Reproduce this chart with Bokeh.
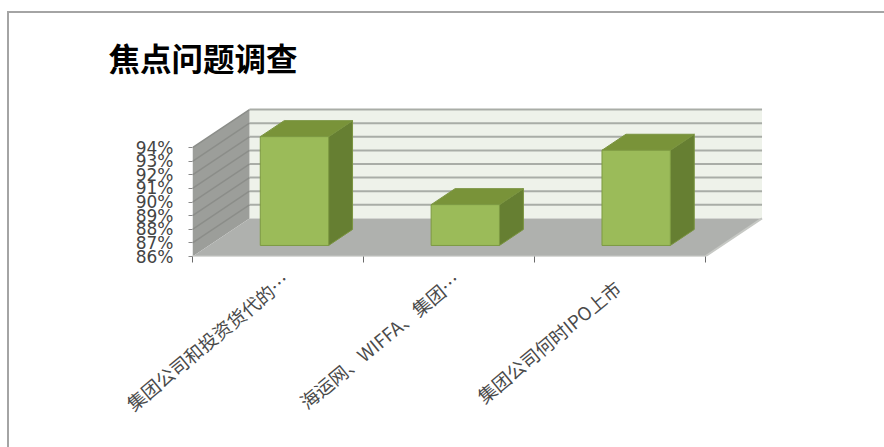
from bokeh.embed import file_html
from bokeh.models import FixedTicker, LinearAxis, Range1d, Title
from bokeh.plotting import figure
from bokeh.resources import INLINE

# Survey results shown as a pseudo-3D column chart
title_text = "焦点问题调查"
categories = ["集团公司和投资货代的…", "海运网、WIFFA、集团…", "集团公司何时IPO上市\u2002\u2009"]
values = [94, 89, 93]
y_ticks = [86, 87, 88, 89, 90, 91, 92, 93, 94]

# Projection of the depth axis, in data units of x and y
DEPTH_X = 1 / 3
DEPTH_Y = 2.8
BAR_WIDTH = 0.4
BAR_NEAR = 0.29
BAR_FAR = 0.71
LABEL_SHIFT = 0.047

y_min, y_max = y_ticks[0], y_ticks[-1]


def project(x, y, depth):
    return x + depth * DEPTH_X, y + depth * DEPTH_Y


def wall_patch(points):
    xs, ys = zip(*(project(*pt) for pt in points))
    return list(xs), list(ys)


p = figure(
    width=884,
    height=447,
    output_backend="svg",
    toolbar_location=None,
    x_range=Range1d(0, 3.5),
    y_range=Range1d(86, 97.47),
    x_axis_type=None,
    y_axis_type=None,
    min_border_left=192,
    min_border_right=94,
    min_border_top=100,
    min_border_bottom=191,
    outline_line_color=None,
    background_fill_color=None,
    border_fill_color=None,
)
p.grid.visible = False

# Page frame along the top and left edges, painted behind the transparent canvas
p.styles = {
    "background-color": "#ffffff",
    "background-image": "linear-gradient(#a4a4a4, #a4a4a4), linear-gradient(#a4a4a4, #a4a4a4)",
    "background-size": "877px 2px, 2px 436px",
    "background-position": "7px 11px, 7px 11px",
    "background-repeat": "no-repeat",
}

p.title = Title(text=title_text, text_font="Noto Sans CJK SC", text_font_size="31.5px",
                text_font_style="bold", text_color="#000000", align="left",
                offset=-84, standoff=42)

n = len(categories)

# Back wall, side wall and floor
bx, by = wall_patch([(0, y_min, 1), (n, y_min, 1), (n, y_max, 1), (0, y_max, 1)])
p.patch(bx, by, fill_color="#eef2ea", line_color=None)
sx, sy = wall_patch([(0, y_min, 0), (0, y_min, 1), (0, y_max, 1), (0, y_max, 0)])
p.patch(sx, sy, fill_color="#9c9e9a", line_color=None)
fx, fy = wall_patch([(0, y_min, 0), (n, y_min, 0), (n, y_min, 1), (0, y_min, 1)])
p.patch(fx, fy, fill_color="#afb1ae", line_color=None)

# Gridlines run across the back wall and down the side wall
for t in y_ticks[1:]:
    x0, y0 = project(0, t, 1)
    x1, y1 = project(n, t, 1)
    p.line([x0, x1], [y0, y1], line_color="#a9ada7", line_width=2)
    x2, y2 = project(0, t, 0)
    p.line([x2, x0], [y2, y0], line_color="#8b8d89", line_width=1.5)
p.line(*wall_patch([(0, y_min, 0), (n, y_min, 0), (n, y_min, 1)]),
       line_color="#c6c8c4", line_width=2)

# Columns: side, then top, then front face
for i, v in enumerate(values):
    left = i + 0.5 - BAR_WIDTH / 2
    right = i + 0.5 + BAR_WIDTH / 2
    sx, sy = wall_patch([(right, y_min, BAR_NEAR), (right, y_min, BAR_FAR),
                         (right, v, BAR_FAR), (right, v, BAR_NEAR)])
    p.patch(sx, sy, fill_color="#667f32", line_color="#7a9440", line_width=1)
    tx, ty = wall_patch([(left, v, BAR_NEAR), (right, v, BAR_NEAR),
                         (right, v, BAR_FAR), (left, v, BAR_FAR)])
    p.patch(tx, ty, fill_color="#799339", line_color="#7a9440", line_width=1)
    fx, fy = wall_patch([(left, y_min, BAR_NEAR), (right, y_min, BAR_NEAR),
                         (right, v, BAR_NEAR), (left, v, BAR_NEAR)])
    p.patch(fx, fy, fill_color="#9bbb59", line_color="#7d9a42", line_width=1)

# Value axis
y_axis = LinearAxis(
    ticker=FixedTicker(ticks=y_ticks),
    major_label_overrides={t: f"{t}%" for t in y_ticks},
    major_label_text_font="DejaVu Sans",
    major_label_text_font_size="17px",
    major_label_text_color="#444444",
    major_label_standoff=15,
    major_tick_in=0,
    major_tick_out=4,
    major_tick_line_color="#8a8a8a",
    minor_tick_line_color=None,
    axis_line_color=None,
)
p.add_layout(y_axis, "left")

# Category axis: tick marks on the slot boundaries, labels near the slot centres
label_positions = [i + 0.5 + LABEL_SHIFT for i in range(n)]
x_axis = LinearAxis(
    ticker=FixedTicker(ticks=label_positions, minor_ticks=list(range(n + 1))),
    major_label_overrides=dict(zip(label_positions, categories)),
    major_label_orientation=0.69,
    major_label_text_font="Noto Sans CJK SC",
    major_label_text_font_size="18.5px",
    major_label_text_color="#4a4a4a",
    major_label_standoff=14,
    major_tick_line_color=None,
    minor_tick_in=0,
    minor_tick_out=6,
    minor_tick_line_color="#6a6a6a",
    axis_line_color=None,
)
p.add_layout(x_axis, "below")

open("out.html", "w").write(file_html(p, INLINE))
